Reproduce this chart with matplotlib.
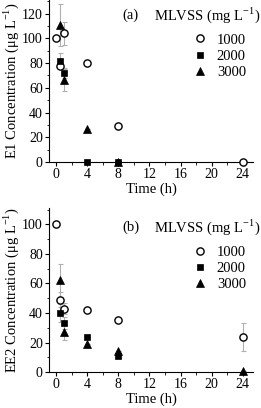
import matplotlib
matplotlib.use("Agg")
import matplotlib.pyplot as plt
from matplotlib.ticker import MultipleLocator

plt.rcParams["font.family"] = ["Liberation Serif", "DejaVu Serif"]
plt.rcParams["mathtext.fontset"] = "custom"
plt.rcParams["mathtext.rm"] = "Liberation Serif"

# series labels (MLVSS, mg/L)
doses = ["1000", "2000", "3000"]

# panel (a): E1
e1_t = {
    "1000": [0, 0.5, 1, 4, 8, 24],
    "2000": [0.5, 1, 4, 8],
    "3000": [0.5, 1, 4, 8],
}
e1_y = {
    "1000": [100, 78, 104, 80, 29, 0],
    "2000": [82, 72, 0, 0],
    "3000": [111, 66, 27, 0],
}
e1_err = {
    "1000": [0, 0, 9, 0, 0, 0],
    "2000": [6, 4, 0, 0],
    "3000": [17, 9, 0, 0],
}

# panel (b): EE2
ee2_t = {
    "1000": [0, 0.5, 1, 4, 8, 24],
    "2000": [0.5, 1, 4, 8],
    "3000": [0.5, 1, 4, 8, 24],
}
ee2_y = {
    "1000": [100, 49, 43, 42, 35, 24],
    "2000": [40, 33, 24, 11],
    "3000": [62, 27, 19, 14, 1],
}
ee2_err = {
    "1000": [0, 5, 4, 0, 0, 9.5],
    "2000": [6, 4, 0, 0],
    "3000": [11, 5, 0, 0, 0],
}

styles = {
    "1000": dict(marker="o", mfc="white", mec="black", ms=5.2, mew=1.0),
    "2000": dict(marker="s", mfc="black", mec="black", ms=4.6, mew=0.5),
    "3000": dict(marker="^", mfc="black", mec="black", ms=5.6, mew=0.5),
}

fig = plt.figure(figsize=(2.61, 4.08), dpi=100)
ax_a = fig.add_axes([0.188, 0.603, 0.781, 0.397])
ax_b = fig.add_axes([0.188, 0.088, 0.781, 0.402])


def draw_panel(ax, t, y, err, ymax, ylabel, tag, tag_y):
    for dose in doses:
        ax.errorbar(t[dose], y[dose], yerr=err[dose], fmt="none", ecolor="#b0b0b0",
                    elinewidth=0.8, capsize=1.8, capthick=0.8, zorder=2, clip_on=False)
        ax.plot(t[dose], y[dose], ls="none", label=dose, zorder=3, clip_on=False,
                **styles[dose])
    ax.set_xlim(-0.9, 25.3)
    ax.set_ylim(0, ymax)
    ax.xaxis.set_major_locator(MultipleLocator(4))
    ax.xaxis.set_minor_locator(MultipleLocator(2))
    ax.yaxis.set_major_locator(MultipleLocator(20))
    ax.yaxis.set_minor_locator(MultipleLocator(10))
    for side in ("top", "right"):
        ax.spines[side].set_visible(False)
    ax.tick_params(which="major", direction="out", length=3, width=0.8,
                   labelsize=10, pad=1.5)
    ax.tick_params(which="minor", direction="out", length=1.8, width=0.6)
    ax.set_xlabel("Time (h)", fontsize=10.5, labelpad=1)
    ax.set_ylabel(ylabel, fontsize=10.5, labelpad=1)
    ax.text(0.40, tag_y, tag, transform=ax.transAxes, fontsize=10.5, ha="center",
            va="center")
    ax.text(1.035, tag_y, "MLVSS (mg L$^{-1}$)", transform=ax.transAxes,
            fontsize=10.5, ha="right", va="center")
    ax.legend(loc="upper left", bbox_to_anchor=(0.655, tag_y - 0.05), frameon=False,
              fontsize=10.5, handlelength=1.0, handletextpad=0.65, labelspacing=0.2,
              borderpad=0.2)


draw_panel(ax_a, e1_t, e1_y, e1_err, 131, "E1 Concentration (\u03bcg L$^{-1}$)",
           "(a)", 0.907)
draw_panel(ax_b, ee2_t, ee2_y, ee2_err, 111, "EE2 Concentration (\u03bcg L$^{-1}$)",
           "(b)", 0.884)

fig.savefig("out.png", dpi=100)
